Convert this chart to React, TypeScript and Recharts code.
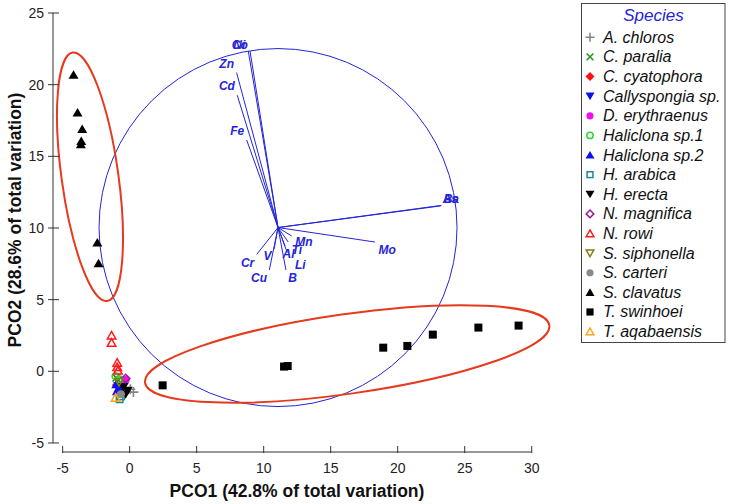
import React from 'react';
import { ScatterChart, Scatter, XAxis, YAxis, ReferenceLine, Legend } from 'recharts';

const FONT = '"Liberation Sans", Arial, Helvetica, sans-serif';
const BLUE = '#2424d8';
const RED = '#e63a1e';

// ---- axes ----
const X_TICKS = [-5, 0, 5, 10, 15, 20, 25, 30];
const Y_TICKS = [-5, 0, 5, 10, 15, 20, 25];
const X_DOMAIN: [number, number] = [-5.72, 32.11];
const Y_DOMAIN: [number, number] = [-5.63, 25];
const X_TITLE = 'PCO1 (42.8% of total variation)';
const Y_TITLE = 'PCO2 (28.6% of total variation)';

// ---- species scores (PCO1, PCO2) ----
const aChlorosX = [0.28, 0.05];
const aChlorosY = [-1.45, -1.25];
const cParaliaX = [-1.0, -0.85];
const cParaliaY = [-0.45, -0.6];
const cCyatophoraX = [-0.95];
const cCyatophoraY = [-0.95];
const callyspongiaX = [-0.85, -0.7];
const callyspongiaY = [-1.05, -1.3];
const dErythraenusX = [-0.3];
const dErythraenusY = [-0.6];
const haliclona1X = [-1.05, -0.8];
const haliclona1Y = [-0.35, -0.55];
const haliclona2X = [-1.0, -0.85, -0.95];
const haliclona2Y = [-0.9, -1.2, -1.4];
const hArabicaX = [-0.75, -0.65];
const hArabicaY = [-1.95, -1.75];
const hErectaX = [-0.15, -0.3, -0.45];
const hErectaY = [-1.35, -1.6, -1.1];
const nMagnificaX = [-0.3];
const nMagnificaY = [-0.5];
const nRowiX = [-1.35, -1.35, -0.93, -0.93, -0.88];
const nRowiY = [2.5, 2.0, 0.6, 0.3, 0.05];
const sSiphonellaX = [-0.8];
const sSiphonellaY = [-0.75];
const sCarteriX = [-0.65];
const sCarteriY = [-1.6];
const sClavatusX = [-4.19, -3.89, -3.54, -3.61, -3.64, -2.41, -2.32];
const sClavatusY = [20.7, 18.05, 16.9, 16.07, 15.84, 8.98, 7.54];
const tSwinhoeiX = [2.46, 11.52, 11.79, 18.92, 20.72, 22.62, 26.02, 29.02];
const tSwinhoeiY = [-0.98, 0.33, 0.37, 1.65, 1.77, 2.56, 3.05, 3.19];
const tAqabaensisX = [-1.05];
const tAqabaensisY = [-1.84];

// ---- vector overlay ----
const VEC_ORIGIN = { x: 11.07, y: 10.03 };
const vecNames = ['Ni', 'Co', 'Zn', 'Cd', 'Fe', 'As', 'Ba', 'Mo', 'Mn', 'Ti', 'Al', 'Li', 'B', 'Cu', 'Cr', 'V'];
const vecEndX = [8.85, 8.98, 7.98, 8.03, 8.73, 23.2, 23.27, 18.3, 12.09, 11.83, 11.59, 11.76, 11.66, 10.42, 9.48, 10.77];
const vecEndY = [22.35, 22.35, 20.84, 19.26, 16.14, 11.54, 11.58, 9.02, 9.44, 9.02, 8.74, 8.28, 7.07, 7.07, 8.16, 8.51];
const vecLabelX = [8.18, 8.22, 7.24, 7.26, 8.03, 23.93, 24.0, 19.22, 13.01, 12.48, 11.86, 12.73, 12.16, 9.65, 8.8, 10.29];
const vecLabelY = [22.82, 22.78, 21.45, 19.91, 16.8, 12.07, 12.05, 8.51, 9.05, 8.51, 8.21, 7.47, 6.54, 6.54, 7.59, 8.09];

// ---- group ellipses (centre in data units) ----
const ellipseCX = [-2.96, 16.23];
const ellipseCY = [13.57, 1.21];

type Pt = { x: number; y: number };
const pts = (xs: number[], ys: number[]): Pt[] => xs.map((x, i) => ({ x, y: ys[i] }));

type Kind =
  | 'plus' | 'cross' | 'diamond' | 'triDown' | 'circle' | 'circleOpen' | 'triUp'
  | 'squareOpen' | 'diamondOpen' | 'triUpOpen' | 'triDownOpen' | 'square';

const species: { name: string; data: Pt[]; kind: Kind; color: string }[] = [
  { name: 'A. chloros', data: pts(aChlorosX, aChlorosY), kind: 'plus', color: '#858585' },
  { name: 'C. paralia', data: pts(cParaliaX, cParaliaY), kind: 'cross', color: '#1f9a1f' },
  { name: 'C. cyatophora', data: pts(cCyatophoraX, cCyatophoraY), kind: 'diamond', color: '#ff1010' },
  { name: 'Callyspongia sp.', data: pts(callyspongiaX, callyspongiaY), kind: 'triDown', color: '#1010ee' },
  { name: 'D. erythraenus', data: pts(dErythraenusX, dErythraenusY), kind: 'circle', color: '#ee10ee' },
  { name: 'Haliclona sp.1', data: pts(haliclona1X, haliclona1Y), kind: 'circleOpen', color: '#2fd62f' },
  { name: 'Haliclona sp.2', data: pts(haliclona2X, haliclona2Y), kind: 'triUp', color: '#1010ee' },
  { name: 'H. arabica', data: pts(hArabicaX, hArabicaY), kind: 'squareOpen', color: '#1a8a8a' },
  { name: 'H. erecta', data: pts(hErectaX, hErectaY), kind: 'triDown', color: '#000000' },
  { name: 'N. magnifica', data: pts(nMagnificaX, nMagnificaY), kind: 'diamondOpen', color: '#9a1a9a' },
  { name: 'N. rowi', data: pts(nRowiX, nRowiY), kind: 'triUpOpen', color: '#ff1a1a' },
  { name: 'S. siphonella', data: pts(sSiphonellaX, sSiphonellaY), kind: 'triDownOpen', color: '#80801a' },
  { name: 'S. carteri', data: pts(sCarteriX, sCarteriY), kind: 'circle', color: '#8a8a8a' },
  { name: 'S. clavatus', data: pts(sClavatusX, sClavatusY), kind: 'triUp', color: '#000000' },
  { name: 'T. swinhoei', data: pts(tSwinhoeiX, tSwinhoeiY), kind: 'square', color: '#000000' },
  { name: 'T. aqabaensis', data: pts(tAqabaensisX, tAqabaensisY), kind: 'triUpOpen', color: '#ffa31a' },
];

function Marker({ kind, color, cx, cy, s }: { kind: Kind; color: string; cx: number; cy: number; s: number }) {
  const h = s / 2;
  switch (kind) {
    case 'plus':
      return <path d={`M${cx - h},${cy}H${cx + h}M${cx},${cy - h}V${cy + h}`} stroke={color} strokeWidth={1.6} fill="none" />;
    case 'cross': {
      const k = h * 0.75;
      return <path d={`M${cx - k},${cy - k}L${cx + k},${cy + k}M${cx + k},${cy - k}L${cx - k},${cy + k}`} stroke={color} strokeWidth={1.6} fill="none" />;
    }
    case 'diamond':
    case 'diamondOpen': {
      const p = `${cx},${cy - h} ${cx + h},${cy} ${cx},${cy + h} ${cx - h},${cy}`;
      return kind === 'diamond'
        ? <polygon points={p} fill={color} />
        : <polygon points={`${cx},${cy - h * 0.85} ${cx + h * 0.85},${cy} ${cx},${cy + h * 0.85} ${cx - h * 0.85},${cy}`} fill="none" stroke={color} strokeWidth={1.5} />;
    }
    case 'triUp':
      return <polygon points={`${cx},${cy - h * 0.9} ${cx + h},${cy + h * 0.8} ${cx - h},${cy + h * 0.8}`} fill={color} />;
    case 'triDown':
      return <polygon points={`${cx},${cy + h * 0.9} ${cx + h},${cy - h * 0.8} ${cx - h},${cy - h * 0.8}`} fill={color} />;
    case 'triUpOpen':
      return <polygon points={`${cx},${cy - h * 0.8} ${cx + h * 0.85},${cy + h * 0.7} ${cx - h * 0.85},${cy + h * 0.7}`} fill="none" stroke={color} strokeWidth={1.5} />;
    case 'triDownOpen':
      return <polygon points={`${cx},${cy + h * 0.8} ${cx + h * 0.85},${cy - h * 0.7} ${cx - h * 0.85},${cy - h * 0.7}`} fill="none" stroke={color} strokeWidth={1.5} />;
    case 'circle':
      return <circle cx={cx} cy={cy} r={h * 0.8} fill={color} />;
    case 'circleOpen':
      return <circle cx={cx} cy={cy} r={h * 0.7} fill="none" stroke={color} strokeWidth={1.5} />;
    case 'square':
      return <rect x={cx - h * 0.8} y={cy - h * 0.8} width={h * 1.6} height={h * 1.6} fill={color} />;
    case 'squareOpen':
      return <rect x={cx - h * 0.65} y={cy - h * 0.65} width={h * 1.3} height={h * 1.3} fill="none" stroke={color} strokeWidth={1.5} />;
  }
  return null;
}

const XTick = (props: any) => {
  const { x, y, payload } = props;
  return (
    <g>
      <line x1={x} x2={x} y1={y - 6} y2={y + 1} stroke="#333" strokeWidth={1} />
      <text x={x} y={y + 21} textAnchor="middle" fontSize={14} fontFamily={FONT} fill="#222">{payload.value}</text>
    </g>
  );
};

const YTick = (props: any) => {
  const { x, y, payload } = props;
  return (
    <g>
      <line x1={x - 5} x2={x + 6} y1={y} y2={y} stroke="#333" strokeWidth={1} />
      <text x={x - 9} y={y + 5} textAnchor="end" fontSize={14} fontFamily={FONT} fill="#222">{payload.value}</text>
    </g>
  );
};

const XTitle = () => (
  <text x={297} y={497} textAnchor="middle" fontSize={17.5} fontWeight="bold" fontFamily={FONT} fill="#111">{X_TITLE}</text>
);
const YTitle = () => (
  <text x={21} y={220} transform="rotate(-90, 21, 220)" textAnchor="middle" fontSize={17.5} fontWeight="bold" fontFamily={FONT} fill="#111">{Y_TITLE}</text>
);

const LegendBox = () => (
  <svg width={146} height={342} style={{ display: 'block' }}>
    <rect x={0.5} y={0.5} width={143.5} height={339} fill="#fff" stroke="#444" strokeWidth={1} />
    <text x={72.5} y={18} textAnchor="middle" fontSize={17} fontStyle="italic" fontFamily={FONT} fill={BLUE}>Species</text>
    {species.map((sp, i) => {
      const cy = 34.3 + i * 19.62;
      return (
        <g key={sp.name}>
          <Marker kind={sp.kind} color={sp.color} cx={9} cy={cy} s={9} />
          <text x={22} y={cy + 5.5} fontSize={16} fontStyle="italic" fontFamily={FONT} fill="#111">{sp.name}</text>
        </g>
      );
    })}
  </svg>
);

const circleShape = (props: any) => (
  <circle cx={props.cx} cy={props.cy} r={179} fill="none" stroke={BLUE} strokeWidth={1} />
);

const ellipseGeom = [
  { rx: 28.4, ry: 125.4, angle: -7.9 },
  { rx: 204.2, ry: 39.8, angle: -8.07 },
];
const ellipseShape = (props: any) => {
  const g = ellipseGeom[props.index] || ellipseGeom[0];
  return (
    <ellipse
      cx={props.cx}
      cy={props.cy}
      rx={g.rx}
      ry={g.ry}
      transform={`rotate(${g.angle}, ${props.cx}, ${props.cy})`}
      fill="none"
      stroke={RED}
      strokeWidth={2}
    />
  );
};

const labelShape = (props: any) => (
  <text
    x={props.cx}
    y={props.cy}
    dy={4.3}
    textAnchor="middle"
    fontSize={12}
    fontWeight="bold"
    fontStyle="italic"
    fontFamily={FONT}
    fill={BLUE}
  >
    {props.payload.name}
  </text>
);

const vecLabels = vecNames.map((name, i) => ({ name, x: vecLabelX[i], y: vecLabelY[i] }));
const ellipseCentres = pts(ellipseCX, ellipseCY);

export default function App() {
  return (
    <div style={{ position: 'absolute', left: 0, top: 0, width: 730, height: 504, background: '#fff' }}>
      <ScatterChart width={730} height={504} margin={{ top: 13, right: 170, bottom: 0, left: 0 }}>
        <XAxis
          type="number"
          dataKey="x"
          domain={X_DOMAIN}
          ticks={X_TICKS}
          allowDataOverflow
          axisLine={false}
          tickLine={false}
          tickSize={0}
          tickMargin={0}
          height={52}
          tick={<XTick />}
          interval={0}
          label={{ content: XTitle }}
        />
        <YAxis
          type="number"
          dataKey="y"
          domain={Y_DOMAIN}
          ticks={Y_TICKS}
          allowDataOverflow
          axisLine={false}
          tickLine={false}
          tickSize={0}
          tickMargin={0}
          width={53}
          tick={<YTick />}
          interval={0}
          label={{ content: YTitle }}
        />
        <ReferenceLine
          segment={[{ x: X_TICKS[0], y: Y_DOMAIN[0] }, { x: X_TICKS[X_TICKS.length - 1], y: Y_DOMAIN[0] }]}
          stroke="#333"
          strokeWidth={1}
          ifOverflow="visible"
        />
        <ReferenceLine
          segment={[{ x: X_DOMAIN[0], y: Y_TICKS[0] }, { x: X_DOMAIN[0], y: Y_TICKS[Y_TICKS.length - 1] }]}
          stroke="#333"
          strokeWidth={1}
          ifOverflow="visible"
        />
        <Scatter name="circle" data={[VEC_ORIGIN]} shape={circleShape} isAnimationActive={false} legendType="none" />
        {vecNames.map((n, i) => (
          <ReferenceLine
            key={n}
            segment={[VEC_ORIGIN, { x: vecEndX[i], y: vecEndY[i] }]}
            stroke={BLUE}
            strokeWidth={1}
            ifOverflow="visible"
          />
        ))}
        <Scatter name="ellipses" data={ellipseCentres} shape={ellipseShape} isAnimationActive={false} legendType="none" />
        <Scatter name="vecLabels" data={vecLabels} shape={labelShape} isAnimationActive={false} legendType="none" />
        {species.map((sp) => (
          <Scatter
            key={sp.name}
            name={sp.name}
            data={sp.data}
            isAnimationActive={false}
            shape={(p: any) => <Marker kind={sp.kind} color={sp.color} cx={p.cx} cy={p.cy} s={sp.kind === 'square' ? 10 : 10} />}
          />
        ))}
        <Legend
          layout="vertical"
          align="center"
          verticalAlign="middle"
          wrapperStyle={{ position: 'absolute', left: 581, top: 3, width: 146, height: 342 }}
          content={() => <LegendBox />}
        />
      </ScatterChart>
    </div>
  );
}
